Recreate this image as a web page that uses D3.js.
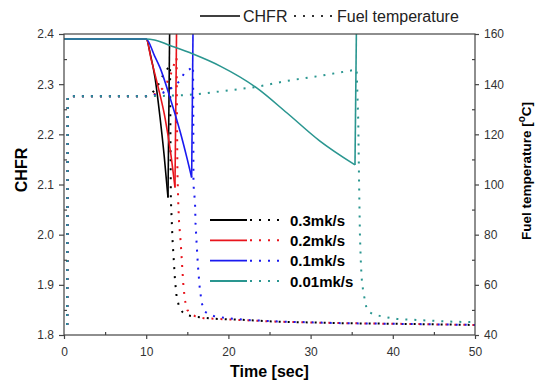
<!DOCTYPE html>
<html><head><meta charset="utf-8">
<script src="https://cdn.jsdelivr.net/npm/d3@7"></script>
<style>
body{margin:0;background:#fff;}
text{font-family:"Liberation Sans",Arial,sans-serif;}
</style></head><body>
<svg id="chart" width="539" height="384"></svg>
<script>
// ---------- data ----------
const seriesNames = ["0.3mk/s","0.2mk/s","0.1mk/s","0.01mk/s"];
const seriesColors = ["#000000","#e8141c","#1a1af0","#2a9690"];
const xTicks = [0,10,20,30,40,50];
const xMinor = [5,15,25,35,45];
const chfrTicks = [1.8,1.9,2.0,2.1,2.2,2.3,2.4];
const chfrMinor = [1.85,1.95,2.05,2.15,2.25,2.35];
const tempTicks = [40,60,80,100,120,140,160];
const tempMinor = [50,70,90,110,130,150];

// CHFR [time, value] (last point = scram jump)
const chfr03 = [[0,2.39],[10,2.39],[10.5,2.36],[11.07,2.313],[11.68,2.234],[12.2,2.155],[12.65,2.074],[12.88,2.45]];
const chfr02 = [[0,2.39],[10,2.39],[10.6,2.35],[11.47,2.293],[12.29,2.233],[13.0,2.16],[13.5,2.094],[13.72,2.45]];
const chfr01 = [[0,2.39],[10,2.39],[11.0,2.357],[11.68,2.333],[12.9,2.273],[14.1,2.207],[15.0,2.15],[15.53,2.114],[15.72,2.45]];
const chfr001 = [[0,2.39],[10,2.39],[11,2.388],[12.9,2.377],[15.7,2.36],[19,2.336],[23.4,2.293],[27.1,2.243],[31.1,2.187],[35.4,2.139],[35.6,2.45]];

// Fuel temperature [time, °C]
const temp03 = [[0.4,44],[0.45,135.2],[10,135.2],[10.5,135.8],[11,137.5],[11.5,140],[11.9,142.7],[12.4,145.3],[12.9,147.5],[12.95,120],[13.0,94],[13.1,86],[13.2,78],[13.35,70],[13.5,62],[13.7,55.3],[14.0,51.3],[14.4,49.2],[14.8,48],[15.9,47.3],[18,46.5],[22,46],[26,45.3],[34,44.7],[42,44.4],[50,44]];
const temp02 = [[0.4,44],[0.45,135.2],[10,135.2],[11,136],[12,138.3],[12.5,140.5],[13.0,144],[13.4,148],[13.7,150.5],[13.75,125],[13.8,105],[13.9,92.7],[14.0,84.8],[14.2,76.8],[14.35,68.8],[14.5,60.8],[14.7,54],[15.0,50],[15.4,48.5],[15.9,47.6],[17.0,46.7],[20,46.2],[26,45.3],[34,44.7],[42,44.4],[50,44]];
const temp01 = [[0.4,44],[0.45,135.2],[10,135.2],[11,135.7],[12,136.5],[13,138.3],[14,141],[14.7,144.7],[15.3,146],[15.7,147.2],[15.73,125],[15.75,100],[15.94,92.7],[16.0,84.7],[16.13,76.7],[16.3,67.3],[16.5,59.3],[16.75,52.7],[17.15,49.3],[17.6,48.3],[18.2,47.6],[19.8,46.7],[22.2,46],[26,45.4],[34,44.7],[42,44.4],[50,44]];
const temp001 = [[0.4,44],[0.45,135.2],[10,135.2],[12,135.3],[14.5,135.6],[16.3,136.0],[18,136.7],[19,137.1],[23.4,138.9],[27.1,141.3],[31.1,143.3],[35.2,145.6],[35.6,145.9],[35.8,125],[35.9,100],[36.0,80],[36.1,70],[36.2,63],[36.4,57.3],[36.6,54],[36.8,50.7],[37.1,49.2],[37.6,48.3],[38.8,47.3],[40.5,46.4],[42.9,46],[45.3,45.6],[47.3,45.3],[50,45.1]];

const chfrData = [chfr03, chfr02, chfr01, chfr001];
const tempData = [temp03, temp02, temp01, temp001];

// ---------- chart ----------
const svg = d3.select("#chart");
const L = 64, R = 475, T = 34, B = 335;
const x = d3.scaleLinear().domain([0,50]).range([L,R]);
const yC = d3.scaleLinear().domain([1.8,2.4]).range([B,T]);
const yT = d3.scaleLinear().domain([40,160]).range([B,T]);
const axisColor = "#444";

svg.append("defs").append("clipPath").attr("id","clip")
  .append("rect").attr("x",L).attr("y",T).attr("width",R-L).attr("height",B-T);

const plot = svg.append("g").attr("clip-path","url(#clip)");
const lineCsmooth = d3.line().curve(d3.curveMonotoneX).x(d=>x(d[0])).y(d=>yC(d[1]));
const lineC = d3.line().x(d=>x(d[0])).y(d=>yC(d[1]));
const lineT = d3.line().x(d=>x(d[0])).y(d=>yT(d[1]));

tempData.forEach((d,i)=>{
  plot.append("path").attr("d",lineT(d)).attr("fill","none")
    .attr("stroke",seriesColors[i]).attr("stroke-width",2).attr("stroke-dasharray","2 7");
});
chfrData.forEach((d,i)=>{
  const n = d.length;
  plot.append("path").attr("d",lineCsmooth(d.slice(0,n-1))).attr("fill","none")
    .attr("stroke",seriesColors[i]).attr("stroke-width",1.6);
  plot.append("path").attr("d",lineC(d.slice(n-2))).attr("fill","none")
    .attr("stroke",seriesColors[i]).attr("stroke-width",1.6);
});

function styleAxis(g){
  g.select(".domain").remove();
  g.selectAll("line").attr("stroke",axisColor).attr("stroke-width",1.2);
  g.selectAll("text").attr("fill","#333").style("font-size","12px");
}
svg.append("g").attr("transform",`translate(0,${B})`)
  .call(d3.axisBottom(x).tickValues(xTicks).tickSize(4).tickPadding(8).tickFormat(d3.format("d"))).call(styleAxis);
svg.append("g").attr("transform",`translate(0,${B})`)
  .call(d3.axisBottom(x).tickValues(xMinor).tickSize(-3).tickFormat("")).call(styleAxis);
svg.append("g").attr("transform",`translate(${L},0)`)
  .call(d3.axisLeft(yC).tickValues(chfrTicks).tickSize(5).tickPadding(5).tickFormat(d3.format(".1f"))).call(styleAxis);
svg.append("g").attr("transform",`translate(${L},0)`)
  .call(d3.axisLeft(yC).tickValues(chfrMinor).tickSize(-3).tickFormat("")).call(styleAxis);
svg.append("g").attr("transform",`translate(${R},0)`)
  .call(d3.axisRight(yT).tickValues(tempTicks).tickSize(4).tickPadding(5).tickFormat(d3.format("d"))).call(styleAxis);
svg.append("g").attr("transform",`translate(${R},0)`)
  .call(d3.axisRight(yT).tickValues(tempMinor).tickSize(-3).tickFormat("")).call(styleAxis);

svg.append("rect").attr("x",L).attr("y",T).attr("width",R-L).attr("height",B-T)
  .attr("fill","none").attr("stroke",axisColor).attr("stroke-width",1.2);

// axis titles
svg.append("text").attr("x",(L+R)/2).attr("y",377).attr("text-anchor","middle")
  .style("font-size","16px").style("font-weight","bold").text("Time [sec]");
svg.append("text").attr("transform",`translate(27,170) rotate(-90)`).attr("text-anchor","middle")
  .style("font-size","16px").style("font-weight","bold").text("CHFR");
const rt = svg.append("text").attr("transform",`translate(531,171) rotate(-90)`).attr("text-anchor","middle")
  .style("font-size","13.5px").style("font-weight","bold");
rt.append("tspan").text("Fuel temperature [");
rt.append("tspan").attr("dy",-6).style("font-size","10px").text("o");
rt.append("tspan").attr("dy",6).text("C]");

// top legend
const lg = svg.append("g");
lg.append("line").attr("x1",200).attr("x2",240).attr("y1",16).attr("y2",16).attr("stroke","#000").attr("stroke-width",1.5);
lg.append("text").attr("x",243).attr("y",22).style("font-size","16px").attr("fill","#222").text("CHFR");
lg.append("line").attr("x1",294).attr("x2",334).attr("y1",16).attr("y2",16).attr("stroke","#333")
  .attr("stroke-width",2).attr("stroke-dasharray","2 7");
lg.append("text").attr("x",337).attr("y",22).style("font-size","16px").attr("fill","#222").text("Fuel temperature");

// inner legend
const lgY = d3.scalePoint().domain(seriesNames).range([220,281]);
seriesNames.forEach((n,i)=>{
  const yy = lgY(n);
  svg.append("line").attr("x1",210).attr("x2",247).attr("y1",yy).attr("y2",yy)
    .attr("stroke",seriesColors[i]).attr("stroke-width",1.8);
  svg.append("line").attr("x1",250).attr("x2",284).attr("y1",yy).attr("y2",yy)
    .attr("stroke",seriesColors[i]).attr("stroke-width",2).attr("stroke-dasharray","2 7");
  svg.append("text").attr("x",290).attr("y",yy+5.5).style("font-size","15px").style("font-weight","bold").text(n);
});
</script>
</body></html>
